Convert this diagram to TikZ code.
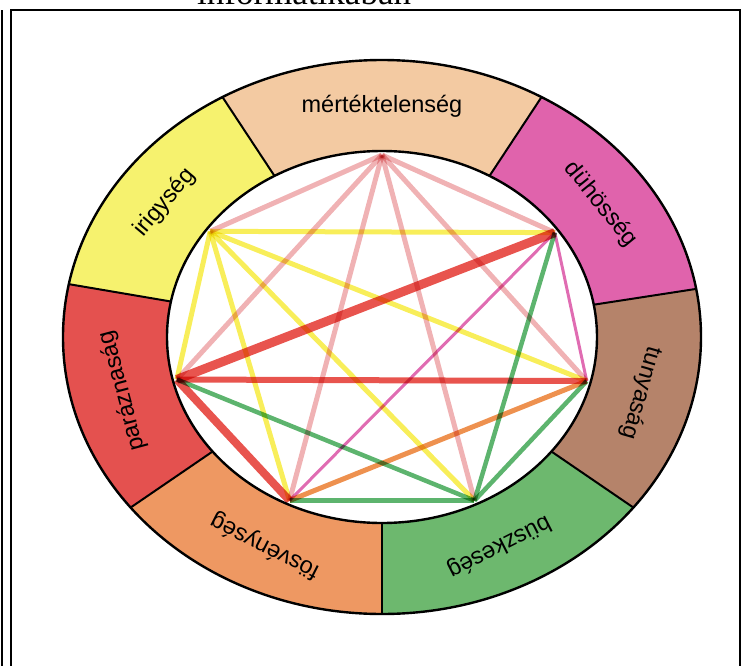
\documentclass[tikz,border=0pt]{standalone}
\usepackage{fontspec}
\setmainfont{Liberation Sans}
\newfontfamily\headfont{Liberation Serif}

\definecolor{cMertek}{HTML}{F3CAA2}
\definecolor{cDuhos}{HTML}{E063AC}
\definecolor{cTunya}{HTML}{B5836A}
\definecolor{cBuszke}{HTML}{6DB86E}
\definecolor{cFosveny}{HTML}{EE9862}
\definecolor{cParazna}{HTML}{E4514F}
\definecolor{cIrigy}{HTML}{F6F26E}

\definecolor{ePink}{HTML}{F0B2B4}
\definecolor{eYellow}{HTML}{F8EE5A}
\definecolor{eRed}{HTML}{E8544E}
\definecolor{eMagenta}{HTML}{E06CB2}
\definecolor{eGreen}{HTML}{5DB46E}
\definecolor{eOrange}{HTML}{EE914F}

\begin{document}
\begin{tikzpicture}[x=1pt,y=1pt,
    sin/.style={font=\fontsize{23.5}{26}\selectfont, inner sep=0pt},
    rim/.style={line width=2.4pt},
    edge/.style={line width=5pt}]
\useasboundingbox (-382,-328) rectangle (365,337);

% heading, mostly cut off at the top
\node[font=\headfont\fontsize{35}{40}\selectfont, anchor=base west, inner sep=0pt] (cim) at (-185,332) {informatikában};

% frame
\draw[line width=2.4pt] (-371,-340) -- (-371,327) -- (358,327) -- (358,-340);
\draw[line width=1.4pt] (-380,-340) -- (-380,327);

% ring of the seven sins
\foreach \a/\b/\c in {60/120/cMertek, 120/169/cIrigy, 169/218/cParazna, 218/270/cFosveny,
                      270/322/cBuszke, 322/370/cTunya, 370/420/cDuhos}
  \fill[\c] (\a:319pt and 277pt) arc[start angle=\a, end angle=\b, x radius=319pt, y radius=277pt]
    -- (\b:215pt and 186pt) arc[start angle=\b, end angle=\a, x radius=215pt, y radius=186pt] -- cycle;

\draw[rim] (0,0) ellipse[x radius=319pt, y radius=277pt];
\draw[rim] (0,0) ellipse[x radius=215pt, y radius=186pt];
\foreach \a in {10,60,120,169,218,270,322}
  \draw[line width=2pt] (\a:215pt and 186pt) -- (\a:319pt and 277pt);

\node[sin] (lMertek) at (90:267pt and 231pt) {mértéktelenség};
\node[sin, rotate=-51] (lDuhos) at (35:267pt and 231pt) {dühösség};
\node[sin, rotate=-106] (lTunya) at (-14:267pt and 231pt) {tunyaság};
\node[sin, rotate=-153] (lBuszke) at (-64:267pt and 233pt) {büszkeség};
\node[sin, rotate=153] (lFosveny) at (-116:267pt and 233pt) {fösvénység};
\node[sin, rotate=105] (lParazna) at (193.5:267pt and 231pt) {paráznaság};
\node[sin, rotate=50] (lIrigy) at (144.5:267pt and 231pt) {irigység};

% one point per sin on the inner rim
\coordinate (mertek) at (90:211pt and 182pt);
\coordinate (duhos) at (35:211pt and 182pt);
\coordinate (tunya) at (-14:211pt and 182pt);
\coordinate (buszke) at (-64:211pt and 182pt);
\coordinate (fosveny) at (-116:211pt and 182pt);
\coordinate (parazna) at (193.5:211pt and 182pt);
\coordinate (irigy) at (144.5:211pt and 182pt);

\begin{scope}[blend mode=multiply]
\foreach \v in {irigy,duhos,tunya,buszke,fosveny,parazna}
  \draw[edge, ePink] (mertek) -- (\v);
\foreach \v in {duhos,tunya,buszke,fosveny,parazna}
  \draw[edge, eYellow] (irigy) -- (\v);
\draw[edge, eMagenta, line width=3pt] (duhos) -- (fosveny);
\draw[edge, eMagenta, line width=3pt] (duhos) -- (tunya);
\foreach \v in {duhos,tunya,fosveny,parazna}
  \draw[edge, eGreen, line width=4.5pt] (buszke) -- (\v);
\draw[edge, eOrange] (fosveny) -- (tunya);
\draw[edge, eRed, line width=6pt] (parazna) -- (tunya);
\draw[edge, eRed, line width=8pt] (parazna) -- (fosveny);
\draw[edge, eRed, line width=9pt] (parazna) -- (duhos);
\end{scope}

\end{tikzpicture}
\end{document}
